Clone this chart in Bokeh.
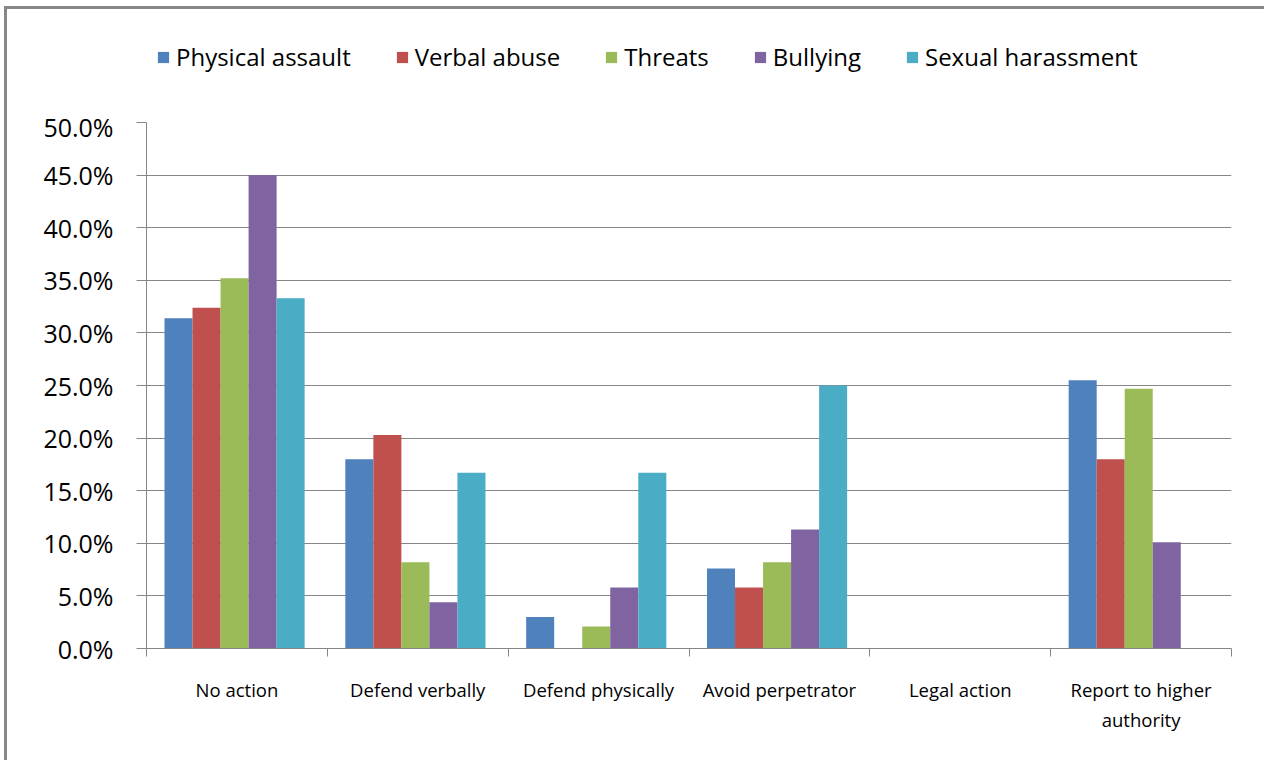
from bokeh.plotting import figure
from bokeh.models import Range1d, FixedTicker, NumeralTickFormatter, Legend, LegendItem
from bokeh.layouts import column
from bokeh.embed import file_html
from bokeh.resources import INLINE

categories = ["No action", "Defend verbally", "Defend physically", "Avoid perpetrator",
              "Legal action", "Report to higher\nauthority"]
series_names = ["Physical assault", "Verbal abuse", "Threats", "Bullying", "Sexual harassment"]
physical_assault = [31.4, 18.0, 3.0, 7.6, 0.0, 25.5]
verbal_abuse = [32.4, 20.3, 0.0, 5.8, 0.0, 18.0]
threats = [35.2, 8.2, 2.1, 8.2, 0.0, 24.7]
bullying = [45.0, 4.4, 5.8, 11.3, 0.0, 10.1]
sexual_harassment = [33.3, 16.7, 16.7, 25.0, 0.0, 0.0]
y_ticks_pct = [0, 5, 10, 15, 20, 25, 30, 35, 40, 45, 50]

series = [physical_assault, verbal_abuse, threats, bullying, sexual_harassment]
colors = ["#4F81BD", "#C0504D", "#9BBB59", "#8064A2", "#4BACC6"]
FONT = "Open Sans"
GRID = "#868686"
NAN = float("nan")

# ---- legend strip (top) ----
lg = figure(width=1257, height=100, x_range=Range1d(0, 1), y_range=Range1d(0, 1),
            output_backend="svg", toolbar_location=None, min_border=0)
lg.outline_line_color = None
lg.axis.visible = False
lg.grid.visible = False
leg_items = []
for name, col in zip(series_names, colors):
    r = lg.vbar(x=[NAN], top=[NAN], bottom=0, width=0.1, fill_color=col, line_color=None)
    leg_items.append(LegendItem(label=name, renderers=[r]))
legend = Legend(items=leg_items, orientation="horizontal", location=(10, 36),
                border_line_color=None, background_fill_alpha=0, padding=0, margin=0,
                glyph_width=14, glyph_height=14, label_standoff=6, spacing=44,
                label_text_font=FONT, label_text_font_size="24px", label_text_color="#000000")
lg.add_layout(legend, "center")

# ---- main chart ----
p = figure(width=1257, height=651, x_range=Range1d(0, len(categories)), y_range=Range1d(0, 0.5),
           output_backend="svg", toolbar_location=None,
           min_border_left=139, min_border_right=33, min_border_top=13, min_border_bottom=112)
p.outline_line_color = None
p.xgrid.grid_line_color = None
p.ygrid.grid_line_color = GRID
p.ygrid.grid_line_width = 1

bw = 0.155
for j, (name, vals, col) in enumerate(zip(series_names, series, colors)):
    xs = [i + 0.5 + (j - 2) * bw - 0.013 for i in range(len(categories))]
    tops = [v / 100.0 for v in vals]
    p.vbar(x=xs, top=tops, bottom=0, width=bw, fill_color=col, line_color=None)

# x axis
p.xaxis.ticker = FixedTicker(ticks=[i + 0.5 for i in range(len(categories))],
                             minor_ticks=list(range(len(categories) + 1)))
p.xaxis.major_label_overrides = {i + 0.5: c for i, c in enumerate(categories)}
p.xaxis.major_tick_line_color = None
p.xaxis.major_tick_out = 0
p.xaxis.major_tick_in = 0
p.xaxis.minor_tick_line_color = GRID
p.xaxis.minor_tick_out = 8
p.xaxis.minor_tick_in = 0
p.xaxis.axis_line_color = GRID
p.xaxis.major_label_text_font = FONT
p.xaxis.major_label_text_font_size = "18.5px"
p.xaxis.major_label_text_color = "#000000"
p.xaxis.major_label_standoff = 20

# y axis
p.yaxis.ticker = FixedTicker(ticks=[t / 100.0 for t in y_ticks_pct])
p.yaxis.formatter = NumeralTickFormatter(format="0.0%")
p.yaxis.major_tick_out = 10
p.yaxis.major_tick_in = 0
p.yaxis.major_tick_line_color = GRID
p.yaxis.minor_tick_line_color = None
p.yaxis.axis_line_color = GRID
p.yaxis.major_label_text_font = FONT
p.yaxis.major_label_text_font_size = "25px"
p.yaxis.major_label_text_color = "#000000"
p.yaxis.major_label_standoff = 23

layout = column(lg, p, spacing=0,
                styles={"border-top": "3px solid #878787", "border-left": "3px solid #878787",
                        "margin-top": "6px", "margin-left": "4px"})

open("out.html", "w").write(file_html(layout, INLINE))
